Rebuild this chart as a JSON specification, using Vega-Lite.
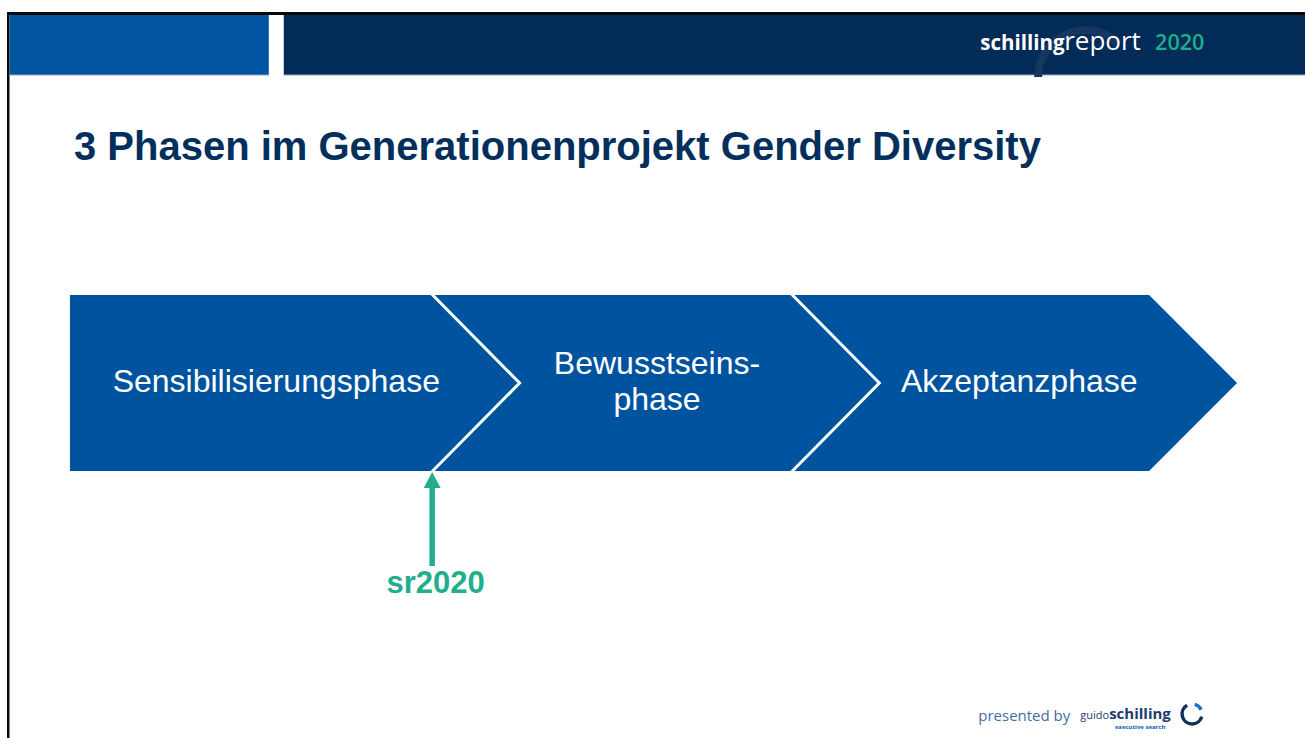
{
  "$schema": "https://vega.github.io/schema/vega-lite/v6.json",
  "width": 1306,
  "height": 738,
  "autosize": {"type": "fit", "contains": "padding"},
  "padding": 0,
  "background": "white",
  "config": {"view": {"stroke": null}},
  "encoding": {
    "x": {"field": "x", "type": "quantitative", "scale": {"domain": [0, 1306], "nice": false, "zero": false}, "axis": null},
    "y": {"field": "y", "type": "quantitative", "scale": {"domain": [0, 738], "nice": false, "zero": false, "reverse": true}, "axis": null}
  },
  "layer": [
    {
      "data": {"values": [{"x": 7, "x2": 1306, "y": 12, "y2": 15}, {"x": 7, "x2": 9.5, "y": 12, "y2": 738}]},
      "mark": {"type": "rect", "color": "#0a0a0a"},
      "encoding": {"x2": {"field": "x2"}, "y2": {"field": "y2"}}
    },
    {
      "data": {"values": [{"x": 9.5, "x2": 269, "y": 15, "y2": 75}]},
      "mark": {"type": "rect", "color": "#0054A0"},
      "encoding": {"x2": {"field": "x2"}, "y2": {"field": "y2"}}
    },
    {
      "data": {"values": [{"x": 284, "x2": 1306, "y": 15, "y2": 75}]},
      "mark": {"type": "rect", "color": "#022B57"},
      "encoding": {"x2": {"field": "x2"}, "y2": {"field": "y2"}}
    },
    {
      "data": {"values": [{"x": 9.5, "x2": 269, "y": 75}, {"x": 284, "x2": 1306, "y": 75}]},
      "mark": {"type": "rule", "color": "#8fa8c6", "strokeWidth": 1.2},
      "encoding": {"x2": {"field": "x2"}}
    },
    {
      "data": {"values": [{"x": 1086, "y": 77}]},
      "mark": {"type": "point", "shape": "M-1,0A1,1 0 0,1 0.7,-0.71", "size": 8836, "filled": false, "stroke": "#16375F", "strokeWidth": 8, "opacity": 1}
    },
    {
      "data": {"values": [{"x": 981, "y": 50, "t": "schilling"}]},
      "mark": {"type": "text", "font": "Open Sans", "fontWeight": "bold", "fontSize": 20.5, "color": "white", "align": "left", "baseline": "alphabetic"},
      "encoding": {"text": {"field": "t"}}
    },
    {
      "data": {"values": [{"x": 1065, "y": 50, "t": "report"}]},
      "mark": {"type": "text", "font": "Open Sans", "fontSize": 26, "color": "white", "align": "left", "baseline": "alphabetic"},
      "encoding": {"text": {"field": "t"}}
    },
    {
      "data": {"values": [{"x": 1156, "y": 50, "t": "2020"}]},
      "mark": {"type": "text", "font": "Open Sans", "fontWeight": 600, "fontSize": 21.5, "color": "#1DAF8B", "align": "left", "baseline": "alphabetic"},
      "encoding": {"text": {"field": "t"}}
    },
    {
      "data": {"values": [{"x": 74, "y": 160, "t": "3 Phasen im Generationenprojekt Gender Diversity"}]},
      "mark": {"type": "text", "font": "Liberation Sans", "fontWeight": "bold", "fontSize": 40, "color": "#032F5D", "align": "left", "baseline": "alphabetic"},
      "encoding": {"text": {"field": "t"}}
    },
    {
      "data": {"values": [{"x": 70, "y": 295, "y2": 471}, {"x": 1150, "y": 295, "y2": 471}, {"x": 1238, "y": 383, "y2": 383}]},
      "mark": {"type": "area", "color": "#00539F", "opacity": 1},
      "encoding": {"y2": {"field": "y2"}}
    },
    {
      "data": {"values": [
        {"x": 432, "y": 294, "g": "a", "o": 1}, {"x": 520, "y": 383, "g": "a", "o": 2}, {"x": 432, "y": 472, "g": "a", "o": 3},
        {"x": 792, "y": 294, "g": "b", "o": 1}, {"x": 880, "y": 383, "g": "b", "o": 2}, {"x": 792, "y": 472, "g": "b", "o": 3}
      ]},
      "mark": {"type": "line", "color": "white", "strokeWidth": 3, "strokeJoin": "miter"},
      "encoding": {"detail": {"field": "g"}, "order": {"field": "o"}}
    },
    {
      "data": {"values": [
        {"x": 276.5, "y": 392, "t": "Sensibilisierungsphase"},
        {"x": 657.5, "y": 374, "t": "Bewusstseins-"},
        {"x": 657.5, "y": 410, "t": "phase"},
        {"x": 1020, "y": 392, "t": "Akzeptanzphase"}
      ]},
      "mark": {"type": "text", "font": "Liberation Sans", "fontSize": 32, "color": "white", "align": "center", "baseline": "alphabetic"},
      "encoding": {"text": {"field": "t"}}
    },
    {
      "data": {"values": [{"x": 424, "y": 488, "y2": 488}, {"x": 432.5, "y": 472, "y2": 488}, {"x": 441, "y": 488, "y2": 488}]},
      "mark": {"type": "area", "color": "#21AE8C", "opacity": 1},
      "encoding": {"y2": {"field": "y2"}}
    },
    {
      "data": {"values": [{"x": 432.5, "y": 486, "y2": 566}]},
      "mark": {"type": "rule", "color": "#21AE8C", "strokeWidth": 5.5},
      "encoding": {"y2": {"field": "y2"}}
    },
    {
      "data": {"values": [{"x": 436, "y": 593, "t": "sr2020"}]},
      "mark": {"type": "text", "font": "Liberation Sans", "fontWeight": "bold", "fontSize": 31, "color": "#21AE8C", "align": "center", "baseline": "alphabetic"},
      "encoding": {"text": {"field": "t"}}
    },
    {
      "data": {"values": [{"x": 979, "y": 721, "t": "presented by"}]},
      "mark": {"type": "text", "font": "Open Sans", "fontSize": 15, "color": "#3F6EA3", "align": "left", "baseline": "alphabetic"},
      "encoding": {"text": {"field": "t"}}
    },
    {
      "data": {"values": [{"x": 1081, "y": 719, "t": "guido"}]},
      "mark": {"type": "text", "font": "Open Sans", "fontSize": 11, "color": "#1B3C6B", "align": "left", "baseline": "alphabetic"},
      "encoding": {"text": {"field": "t"}}
    },
    {
      "data": {"values": [{"x": 1110, "y": 719, "t": "schilling"}]},
      "mark": {"type": "text", "font": "Open Sans", "fontWeight": "bold", "fontSize": 15, "color": "#1B3C6B", "align": "left", "baseline": "alphabetic"},
      "encoding": {"text": {"field": "t"}}
    },
    {
      "data": {"values": [{"x": 1141, "y": 729, "t": "executive search"}]},
      "mark": {"type": "text", "font": "Open Sans", "fontWeight": "bold", "fontSize": 6, "color": "#0B5DAE", "align": "center", "baseline": "alphabetic"},
      "encoding": {"text": {"field": "t"}}
    },
    {
      "data": {"values": [{"x": 1193, "y": 714}]},
      "mark": {"type": "point", "shape": "M-0.5,-0.866A1,1 0 1,0 0.966,0.259", "size": 400, "filled": false, "stroke": "#0F2F5C", "strokeWidth": 3.5, "opacity": 1}
    },
    {
      "data": {"values": [{"x": 1193, "y": 714}]},
      "mark": {"type": "point", "shape": "M0.259,-0.966A1,1 0 0,1 0.906,-0.423", "size": 400, "filled": false, "stroke": "#1A73C8", "strokeWidth": 3.5, "opacity": 1}
    }
  ]
}
